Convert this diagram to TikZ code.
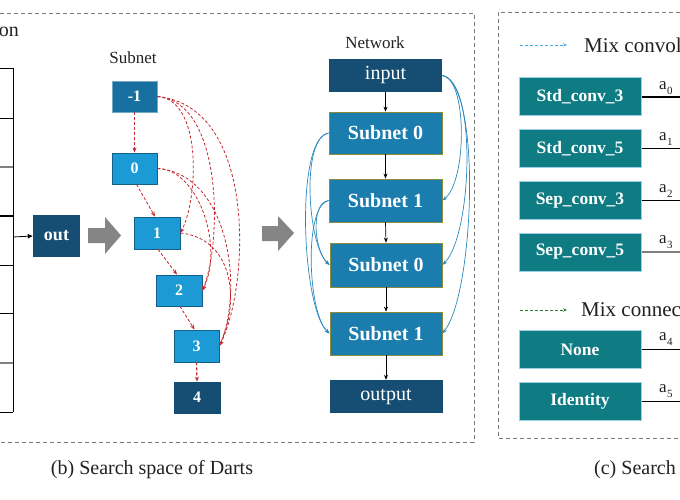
\documentclass[tikz,border=0pt]{standalone}
\usepackage{fontspec}
\setmainfont{Liberation Serif}
\usetikzlibrary{arrows.meta}

\definecolor{navy}{HTML}{154E72}
\definecolor{cellA}{HTML}{1870A0}
\definecolor{cellB}{HTML}{1C9AD6}
\definecolor{cellEdge}{HTML}{15608A}
\definecolor{netBlue}{HTML}{1B7DAE}
\definecolor{netEdge}{HTML}{8C8A3C}
\definecolor{opTeal}{HTML}{0F7B82}
\definecolor{opEdge}{HTML}{9CCFE3}
\definecolor{redDash}{HTML}{C42A30}
\definecolor{linkBlue}{HTML}{2C88BC}
\definecolor{legendBlue}{HTML}{4BB0E0}
\definecolor{legendGreen}{HTML}{2E7D32}
\definecolor{frameGray}{HTML}{7A7A7A}
\definecolor{bigArrow}{HTML}{858585}
\definecolor{inkGray}{HTML}{222222}

\newcommand{\fsz}[1]{\fontsize{#1}{#1}\selectfont}
\newcommand{\opw}[1]{a\kern0.3pt\raisebox{-0.3em}{\fsz{11}#1}}

\tikzset{
  cellnode/.style={rectangle, draw=cellEdge, line width=0.8pt, fill=cellB, text=white,
    font=\fsz{16}\bfseries, minimum width=45pt, minimum height=31pt, inner sep=0pt},
  navybox/.style={rectangle, fill=navy, text=white, font=\fsz{20},
    minimum width=113pt, minimum height=33pt, inner sep=0pt},
  netbox/.style={rectangle, fill=netBlue, draw=netEdge, line width=0.8pt, text=white,
    font=\fsz{20}\bfseries, minimum width=113pt, minimum height=43pt, inner sep=0pt},
  opbox/.style={rectangle, fill=opTeal, draw=opEdge, line width=1pt, text=white,
    font=\fsz{17.5}\bfseries, minimum width=122pt, minimum height=38pt, inner sep=0pt},
  reddash/.style={redDash, dash pattern=on 3pt off 2pt, line width=0.8pt,
    -{Stealth[length=5pt,width=4pt]}},
  bluelink/.style={linkBlue, line width=0.7pt, -{Stealth[length=5pt,width=3.5pt]}},
  flow/.style={black, line width=0.7pt, -{Stealth[length=5pt,width=4pt]}},
  panel/.style={frameGray, line width=0.8pt, dash pattern=on 4pt off 3pt},
  weightline/.style={black, line width=0.8pt},
  plainlabel/.style={text=inkGray, inner sep=0pt},
}

\begin{document}
\begin{tikzpicture}[x=1pt,y=-1pt]
\useasboundingbox (0,0) rectangle (680,500);
\clip (0,0) rectangle (680,500);
\fill[white] (0,0) rectangle (680,500);

% ---------- panel frames ----------
\draw[panel] (0,13) -- (474,13) -- (474,442) -- (0,442);
\draw[panel] (680,12) -- (498,12) -- (498,438) -- (680,438);

% ---------- table edge on the far left ----------
\node[plainlabel, anchor=base east, font=\fsz{20}] (titleA) at (19,37) {on};
\draw[black, line width=0.9pt] (13,68) -- (13,412);
\foreach \yy in {68,118,265,313,412}
  \draw[black, line width=0.8pt] (0,\yy) -- (13,\yy);
\draw[gray, line width=2pt] (0,167) -- (13,167);
\draw[black, line width=1.6pt] (0,216) -- (13,216);
\draw[gray, line width=2pt] (0,363) -- (13,363);
\coordinate (tabjoin) at (13,237);

\node[rectangle, fill=navy, text=white, font=\fsz{18}\bfseries, minimum width=47pt,
  minimum height=42pt, inner sep=0pt] (out) at (56.5,236) {out};
\draw[black, line width=0.8pt, -{Latex[length=5pt,width=5pt]}] (tabjoin) -- (out.west);

% ---------- big gray arrows ----------
\fill[bigArrow] (88,228) -- (105,228) -- (105,217) -- (121,235.5) -- (105,254)
  -- (105,243) -- (88,243) -- cycle;
\fill[bigArrow] (262,226) -- (278,226) -- (278,216) -- (294,233) -- (278,251)
  -- (278,241) -- (262,241) -- cycle;

% ---------- subnet (cell) ----------
\node[plainlabel, font=\fsz{17}] (subnetlbl) at (133,58) {Subnet};
\node[cellnode, fill=cellA, draw=cellA!60!white] (m1) at (134.5,96.5) {-1};
\node[cellnode] (n0) at (134.5,168.5) {0};
\node[cellnode, minimum width=46pt, minimum height=32pt] (n1) at (157,233) {1};
\node[cellnode, minimum width=46pt] (n2) at (179,290.5) {2};
\node[cellnode, minimum height=32pt] (n3) at (196.5,346) {3};
\node[cellnode, fill=navy, draw=navy, minimum width=46pt] (n4) at (197,397.5) {4};

\draw[reddash, line width=1.2pt] (m1.south) -- (n0.north);
\draw[reddash] ([xshift=2pt]n0.south) -- ([xshift=-2pt]n1.north);
\draw[reddash] ([xshift=1pt]n1.south) -- ([xshift=-2pt]n2.north);
\draw[reddash] ([xshift=1pt]n2.south) -- ([xshift=-2pt]n3.north);
\draw[reddash, line width=1.2pt] (n3.south) -- (n4.north);

\draw[reddash] (m1.east) .. controls +(45,3) and +(18,-35) .. (n1.east);
\draw[reddash] (m1.east) .. controls +(65,5) and +(20,-50) .. (n2.east);
\draw[reddash] (m1.east) .. controls +(100,10) and +(30,-60) .. (n3.east);
\draw[reddash] (n0.east) .. controls +(40,0) and +(22,-45) .. (n2.east);
\draw[reddash] (n0.east) .. controls +(70,5) and +(25,-60) .. (n3.east);
\draw[reddash] (n1.east) .. controls +(50,5) and +(22,-50) .. (n3.east);

% ---------- network ----------
\node[plainlabel, font=\fsz{17}] (netlbl) at (375,43) {Network};
\node[navybox] (input) at (385.5,75.5) {input};
\node[netbox, minimum height=42pt] (s0) at (385.5,133) {Subnet 0};
\node[netbox] (s1) at (385.5,200.5) {Subnet 1};
\node[netbox, minimum width=112pt, minimum height=44pt] (s0b) at (386,265) {Subnet 0};
\node[netbox, minimum width=112pt] (s1b) at (386,333.5) {Subnet 1};
\node[navybox] (output) at (386,396.5) {output};

\draw[flow] (input.south) -- (s0.north);
\draw[flow] (s0.south) -- (s1.north);
\draw[flow] (s1.south) -- (s0b.north);
\draw[flow] (s0b.south) -- (s1b.north);
\draw[flow] (s1b.south) -- (output.north);

\draw[bluelink] (input.east) .. controls +(25,2) and +(25,-20) .. (s1.east);
\draw[bluelink] (input.east) .. controls +(35,5) and +(30,-30) .. (s0b.east);
\draw[bluelink] (input.east) .. controls +(40,8) and +(32,-40) .. (s1b.east);

\draw[bluelink] (s0.west) .. controls +(-28,5) and +(-22,-20) .. (s0b.west);
\draw[bluelink] (s0.west) .. controls +(-34,5) and +(-28,-25) .. (s1b.west);
\draw[bluelink] (s1.west) .. controls +(-18,2) and +(-16,-15) .. (s0b.west);
\draw[bluelink] (s1.west) .. controls +(-25,5) and +(-22,-20) .. (s1b.west);

% ---------- operation candidates ----------
\coordinate (lgA1) at (520,45);
\coordinate (lgA2) at (567,45);
\draw[legendBlue, line width=0.8pt, dash pattern=on 3pt off 2pt,
  -{Stealth[length=4pt,width=3.5pt]}] (lgA1) -- (lgA2);
\node[plainlabel, anchor=west, font=\fsz{21}] (lgAtxt) at (584,45) {Mix convolution};

\node[opbox] (std3) at (580,97) {Std\_conv\_3};
\node[opbox] (std5) at (580,148.5) {Std\_conv\_5};
\node[opbox] (sep3) at (580,200.5) {Sep\_conv\_3};
\node[opbox] (sep5) at (580,252) {Sep\_conv\_5};

\coordinate (lgB1) at (520,310);
\coordinate (lgB2) at (567,310);
\draw[legendGreen, line width=0.8pt, dash pattern=on 3pt off 2pt,
  -{Stealth[length=4pt,width=3.5pt]}] (lgB1) -- (lgB2);
\node[plainlabel, anchor=west, font=\fsz{21}] (lgBtxt) at (581,310) {Mix connection};

\node[opbox] (none) at (580,349.5) {None};
\node[opbox] (ident) at (580,401.5) {Identity};

\coordinate (e0) at (680,97);
\coordinate (e1) at (680,148.5);
\coordinate (e2) at (680,200.5);
\coordinate (e3) at (680,252);
\coordinate (e4) at (680,349.5);
\coordinate (e5) at (680,401.5);
\draw[weightline, line width=1.3pt] (std3.east) -- (e0);
\draw[weightline, line width=0.6pt] (std5.east) -- (e1);
\draw[weightline, line width=1pt] (sep3.east) -- (e2);
\draw[gray, line width=2.2pt] (sep5.east) -- (e3);
\draw[weightline, line width=0.6pt] (none.east) -- (e4);
\draw[weightline, line width=0.6pt] (ident.east) -- (e5);

\foreach \nm/\k/\yy in {w0/0/88, w1/1/139, w2/2/191, w3/3/242, w4/4/339, w5/5/391}
  \node[plainlabel, font=\fsz{17}, anchor=west] (\nm) at (659,\yy) {\opw{\k}};

% ---------- captions ----------
\node[plainlabel, font=\fsz{20}] (capB) at (152,470) {(b) Search space of Darts};
\node[plainlabel, font=\fsz{20}, anchor=west] (capC) at (594,470) {(c) Search};
\end{tikzpicture}
\end{document}
